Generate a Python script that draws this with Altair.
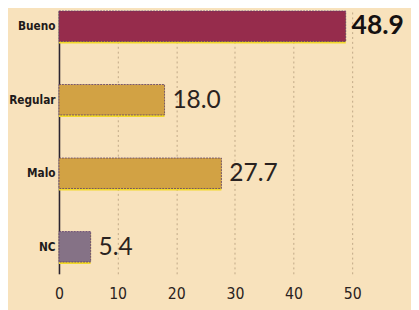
import altair as alt
import pandas as pd

categories = ["Bueno", "Regular", "Malo", "NC"]
values = [48.9, 18.0, 27.7, 5.4]
labels = ["48.9", "18.0", "27.7", "5.4"]
colors = ["#962c4c", "#d2a244", "#d2a244", "#857286"]
ticks = [0, 10, 20, 30, 40, 50]

df = pd.DataFrame({"cat": categories, "val": values, "lab": labels, "col": colors})

COND = "DejaVu Sans Condensed, Roboto, sans-serif"
W, H = 299, 268
yscale = alt.Scale(domain=categories, paddingInner=0.586, paddingOuter=0.08, align=0)
xscale = alt.Scale(domain=[0, 50], nice=False)

x_axis = alt.X("val:Q", scale=xscale,
               axis=alt.Axis(values=ticks, title=None, grid=True, gridDash=[2, 3],
                             gridColor="#a08868", gridWidth=0.8, gridOpacity=0.8,
                             domain=False, ticks=False, labelFont=COND,
                             labelFontSize=16, labelColor="#2a2220", labelPadding=12,
                             labelFlush=False))
y_axis = alt.Y("cat:N", scale=yscale, sort=categories,
               axis=alt.Axis(title=None, domain=True, domainColor="#2a2430", domainWidth=1.6,
                             ticks=False, labelFont=COND, labelFontWeight="bold",
                             labelFontSize=12, labelColor="#1e1a1a", labelPadding=4))
x_plain = alt.X("val:Q", scale=xscale)
y_plain = alt.Y("cat:N", scale=yscale, sort=categories)

base = alt.Chart(df)

shadow = base.mark_bar(color="#f2d82a", yOffset=2).encode(x=x_axis, y=y_axis)

bars = base.mark_bar(stroke="#5a3a6a", strokeWidth=0.8, strokeDash=[2, 1]).encode(
    x=x_plain, y=y_plain, color=alt.Color("col:N", scale=None))

text_reg = base.transform_filter(alt.datum.cat != "Bueno").mark_text(
    align="left", dx=8, font="Lato", fontSize=25, color="#2a2220").encode(
    x=x_plain, y=y_plain, text="lab:N")

text_bold = base.transform_filter(alt.datum.cat == "Bueno").mark_text(
    align="left", dx=6, font="Lato", fontWeight="bold", fontSize=27, color="#151010").encode(
    x=x_plain, y=y_plain, text="lab:N")

chart = alt.layer(shadow, bars, text_reg, text_bold).properties(
    width=W, height=H,
    autosize=alt.AutoSizeParams(type="none"),
    padding={"left": 52, "top": 0, "right": 60, "bottom": 40},
    background="#f8e2bc",
).configure_view(stroke=None)

chart.save("out.html", embed_options={"renderer": "svg", "actions": False})
